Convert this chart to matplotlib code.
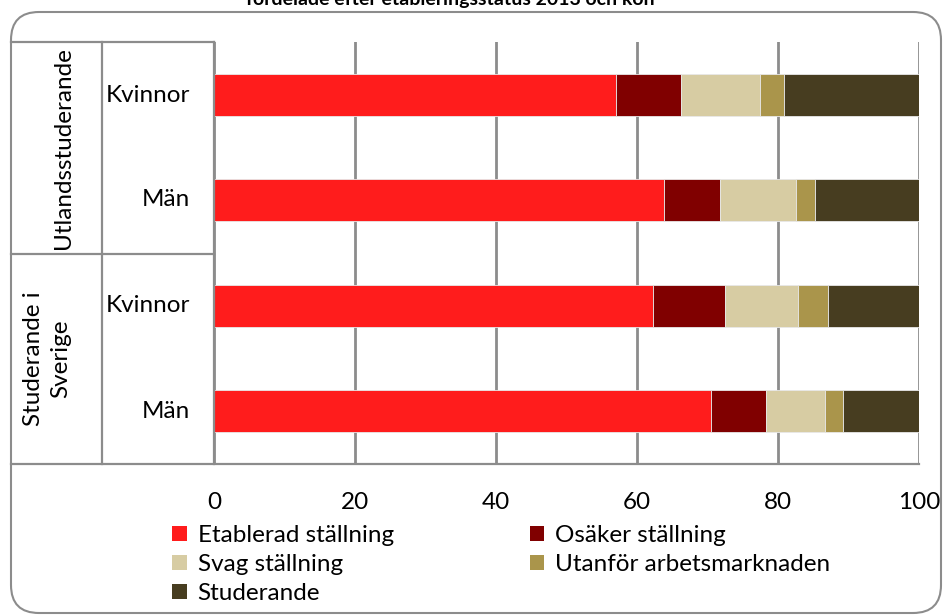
import matplotlib
matplotlib.use("Agg")
import matplotlib.pyplot as plt
from matplotlib.patches import FancyBboxPatch
from matplotlib.lines import Line2D
from matplotlib.transforms import IdentityTransform

plt.rcParams['font.family'] = ['Lato', 'DejaVu Sans']

# ---- data ----
groups = ["Utlandsstuderande", "Studerande i\nSverige"]
categories = ["Kvinnor", "Män", "Kvinnor", "Män"]   # top to bottom
series_names = ["Etablerad ställning", "Osäker ställning", "Svag ställning",
                "Utanför arbetsmarknaden", "Studerande"]
etablerad = [57.0, 63.8, 62.2, 70.5]
osaker = [9.2, 8.0, 10.3, 7.8]
svag = [11.2, 10.8, 10.3, 8.4]
utanfor = [3.5, 2.7, 4.3, 2.5]
studerande = [19.1, 14.7, 12.9, 10.8]
xticks = [0, 20, 40, 60, 80, 100]
title = "fördelade efter etableringsstatus 2013 och kön"

colors = ["#FF1C1C", "#800000", "#D7CCA3", "#AA954B", "#473D20"]
series = [etablerad, osaker, svag, utanfor, studerande]

W, H = 943, 616
fig = plt.figure(figsize=(W / 100, H / 100), dpi=100)

def fx(px):
    return px / W

def fy(py):
    return 1 - py / H

gray = "#8C8C8C"
FS = 17.5

# outer rounded border
border = FancyBboxPatch((11, H - 613), 930, 601,
                        boxstyle="round,pad=0,rounding_size=28",
                        transform=IdentityTransform(), facecolor="none",
                        edgecolor="#8C8C8C", linewidth=1.5, zorder=-5)
fig.patches.append(border)

# title (cut off at top, as in the source)
fig.text(fx(450), fy(5), title, ha="center", va="baseline",
         fontsize=14, fontweight="bold")

# plot axes
x0, x1, ytop, ybot = 214, 919, 42, 464
ax = fig.add_axes([fx(x0), fy(ybot), fx(x1 - x0), (ybot - ytop) / H])
ax.set_facecolor("none")
n = len(categories)
ypos = [n - 1 - i for i in range(n)]
left = [0.0] * n
handles = []
for vals, col, name in zip(series, colors, series_names):
    b = ax.barh(ypos, vals, left=left, height=0.4, color=col, label=name,
                edgecolor="#E8E8E8", linewidth=0.6, zorder=3)
    handles.append(b)
    left = [l + v for l, v in zip(left, vals)]
ax.set_xlim(0, 100)
ax.set_ylim(-0.5, n - 0.5)
ax.set_xticks(xticks)
ax.set_xticklabels([str(t) for t in xticks], fontsize=FS)
ax.tick_params(axis="x", length=0, pad=20)
ax.set_yticks([])
for s in ax.spines.values():
    s.set_visible(False)
for t in xticks:
    ax.axvline(t, color=gray, linewidth=2, zorder=1)
ax.axhline(-0.5, color=gray, linewidth=2, zorder=1)

# table-like category axis lines
lines = [
    ((11, 919), (464, 464)),
    ((11, 214), (42, 42)),
    ((11, 214), (254, 254)),
    ((102, 102), (42, 464)),
    ((214, 214), (42, 464)),
]
for (xa, xb), (ya, yb) in lines:
    fig.add_artist(Line2D([fx(xa), fx(xb)], [fy(ya), fy(yb)],
                          color=gray, linewidth=1.6))

# category labels
row_centers = [95, 200, 306, 411]
for lab, yc in zip(categories, row_centers):
    fig.text(fx(190), fy(yc), lab, ha="right", va="center", fontsize=FS)

# group labels
fig.text(fx(63), fy(148), groups[0], ha="center", va="center",
         rotation=90, fontsize=FS)
fig.text(fx(47), fy(359), groups[1], ha="center", va="center",
         rotation=90, fontsize=FS, multialignment="center", linespacing=1.4)

# legend (row-wise order like the source)
order = [0, 2, 4, 1, 3]
leg = fig.legend([handles[i] for i in order], [series_names[i] for i in order],
                 ncol=2, loc="upper left",
                 bbox_to_anchor=(fx(172), fy(525)), frameon=False,
                 fontsize=FS, handlelength=0.6, handleheight=0.6,
                 handletextpad=0.45, columnspacing=5.6, labelspacing=0.33,
                 borderaxespad=0, borderpad=0)
for h in leg.legend_handles:
    h.set_edgecolor("none")

fig.savefig("out.png", dpi=100)
